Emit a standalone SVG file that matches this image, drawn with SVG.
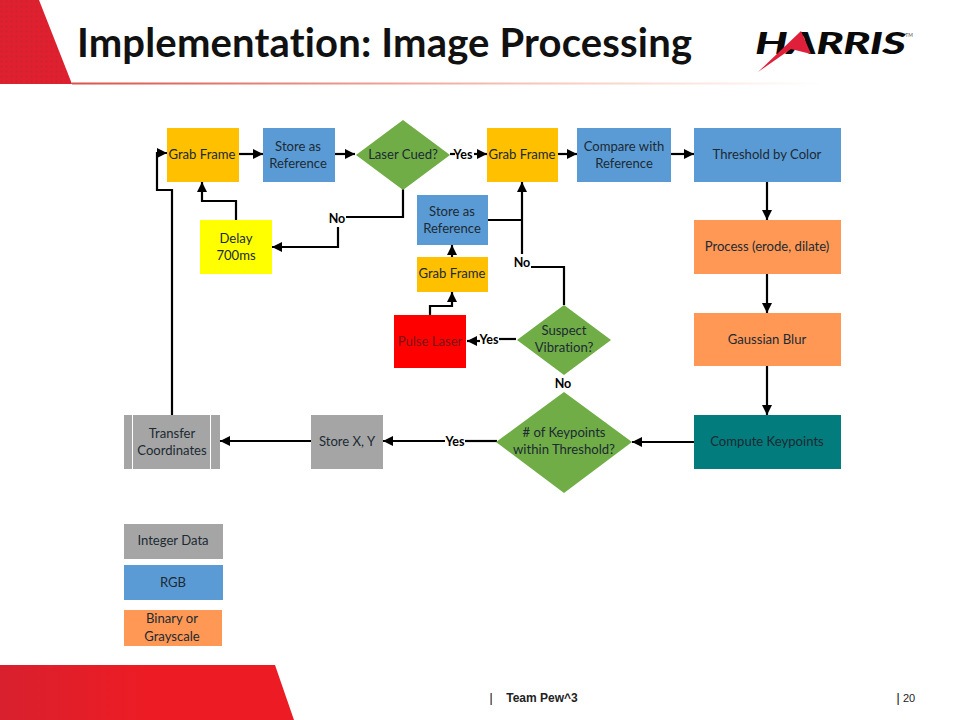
<svg xmlns="http://www.w3.org/2000/svg" width="960" height="720" viewBox="0 0 960 720">
<style>
text{font-family:Lato,"Liberation Sans",sans-serif;font-size:13.1px;text-anchor:middle;fill:#1c2a33;font-variant-ligatures:none}
.b{fill:#5b9bd5}.y{fill:#ffc000}.g{fill:#70ad47}.o{fill:#ff9855}.a{fill:#a5a5a5}
.l{font-weight:700;fill:#000;font-size:12.5px}
.c{fill:none;stroke:#000;stroke-width:2.2}
.f{font-family:"Liberation Sans",Arial,sans-serif;fill:#222}
</style>
<defs>
<marker id="ah" markerUnits="userSpaceOnUse" markerWidth="12" markerHeight="12" refX="10" refY="5" orient="auto"><path d="M0 0L10 5L0 10z" fill="#000"/></marker>
<linearGradient id="rule" x1="0" x2="1" y1="0" y2="0"><stop offset="0" stop-color="#d9534a"/><stop offset=".6" stop-color="#f6c4b8"/><stop offset="1" stop-color="#fff"/></linearGradient>
<linearGradient id="red" x1="0" x2="1" y1="0" y2="0"><stop offset="0" stop-color="#d8202e"/><stop offset=".5" stop-color="#ed1c24"/></linearGradient>
<pattern id="dots" width="5" height="5" patternUnits="userSpaceOnUse"><rect width="5" height="5" fill="#e0202e"/><circle cx="1.500" cy="1.500" r="1.200" fill="#cf2230"/></pattern>
</defs>
<g id="chrome">
<path d="M0 0H39L72 84H0z" fill="url(#dots)"/>
<rect x="72" y="82.500" width="750" height="2" fill="url(#rule)"/>
<path d="M0 665H275L294 720H0z" fill="url(#red)"/>
<text x="384.500" y="57" textLength="615" lengthAdjust="spacing" style="font-size:40px;font-weight:700;fill:#111">Implementation: Image Processing</text>
<text x="830" y="54" style="font-size:30px;font-weight:900;font-style:italic;fill:#0a0a0a;letter-spacing:-.5px" textLength="150" lengthAdjust="spacingAndGlyphs">HARRIS</text>
<path d="M758 72L801 31L811 54L791 49z" fill="#e0203a"/>
<text x="909" y="37" style="font-size:5px;fill:#555">TM</text>
<text class="f" x="491" y="702" style="font-size:12px;fill:#000">|</text>
<text class="f" x="542" y="702" style="font-size:12px;font-weight:700">Team Pew^3</text>
<text class="f" x="898" y="702" style="font-size:12px;fill:#000">|</text>
<text class="f" x="909" y="702" style="font-size:11px">20</text>
</g>
<g id="connectors">
<path class="c" marker-end="url(#ah)" d="M172 415V190H157V153H167"/>
<path class="c" marker-end="url(#ah)" d="M238 154H263"/>
<path class="c" marker-end="url(#ah)" d="M334 154H355"/>
<path class="c" d="M450 154H455"/><path class="c" marker-end="url(#ah)" d="M474 154H487"/>
<path class="c" marker-end="url(#ah)" d="M558 154H577"/>
<path class="c" marker-end="url(#ah)" d="M671 154H694"/>
<path class="c" marker-end="url(#ah)" d="M767 181V220"/>
<path class="c" marker-end="url(#ah)" d="M767 273V313"/>
<path class="c" marker-end="url(#ah)" d="M767 366V415"/>
<path class="c" marker-end="url(#ah)" d="M694 442H632"/>
<path class="c" d="M497 441H465"/><path class="c" marker-end="url(#ah)" d="M445 441H383"/>
<path class="c" marker-end="url(#ah)" d="M311 441H220"/>
<path class="c" d="M403 189V217H346"/>
<path class="c" marker-end="url(#ah)" d="M338 227V247H272"/>
<path class="c" marker-end="url(#ah)" d="M236 220V201H202V182"/>
<path class="c" d="M488 220H522"/>
<path class="c" marker-end="url(#ah)" d="M522 254V182"/>
<path class="c" d="M531 267H564V305"/>
<path class="c" d="M516 339H499"/>
<path class="c" marker-end="url(#ah)" d="M480 341H467"/>
<path class="c" marker-end="url(#ah)" d="M430 315V306H452V292"/>
<path class="c" marker-end="url(#ah)" d="M452 257V245"/>
</g>
<g id="grab1"><rect class="y" x="167" y="128" width="72" height="54"/><text x="202" y="159">Grab Frame</text></g>
<g id="store1"><rect class="b" x="263" y="128" width="72" height="54"/><text x="298" y="151">Store as</text><text x="298" y="168">Reference</text></g>
<g id="cued"><path class="g" d="M403 120L450 155L403 190L356 155z"/><text x="403" y="159">Laser Cued?</text></g>
<g id="grab2"><rect class="y" x="487" y="128" width="71" height="54"/><text x="522" y="159">Grab Frame</text></g>
<g id="compare"><rect class="b" x="577" y="128" width="94" height="54"/><text x="624" y="151">Compare with</text><text x="624" y="168">Reference</text></g>
<g id="threshold"><rect class="b" x="694" y="128" width="147" height="54"/><text x="767" y="159">Threshold by Color</text></g>
<g id="process"><rect class="o" x="694" y="220" width="147" height="54"/><text x="767" y="251">Process (erode, dilate)</text></g>
<g id="blur"><rect class="o" x="694" y="313" width="147" height="53"/><text x="767" y="344">Gaussian Blur</text></g>
<g id="keypoints"><rect fill="#027c7c" x="694" y="415" width="147" height="54"/><text x="767" y="446">Compute Keypoints</text></g>
<g id="delay"><rect fill="#ffff00" x="200" y="220" width="72" height="54"/><text x="236" y="243">Delay</text><text x="236" y="260">700ms</text></g>
<g id="store2"><rect class="b" x="417" y="195" width="71" height="50"/><text x="452" y="216">Store as</text><text x="452" y="233">Reference</text></g>
<g id="grab3"><rect class="y" x="417" y="257" width="71" height="35"/><text x="452" y="278">Grab Frame</text></g>
<g id="pulse"><rect fill="#ff0000" x="394" y="315" width="72" height="53"/><text x="430" y="346" style="fill:#7a1414">Pulse Laser</text></g>
<g id="vibration"><path class="g" d="M564 305L611 340L564 375L517 340z"/><text x="564" y="335">Suspect</text><text x="564" y="352">Vibration?</text></g>
<g id="within"><path class="g" d="M564 392L632 442L564 493L496 442z"/><text x="564" y="437"># of Keypoints</text><text x="564" y="454">within Threshold?</text></g>
<g id="storexy"><rect class="a" x="311" y="415" width="72" height="54"/><text x="347" y="446">Store X, Y</text></g>
<g id="transfer"><rect class="a" x="124" y="415" width="96" height="54"/><path d="M132.500 415V469M210.500 415V469" stroke="#fff" stroke-width="1"/><text x="172" y="438">Transfer</text><text x="172" y="455">Coordinates</text></g>
<g id="legend-int"><rect class="a" x="124" y="524" width="99" height="35"/><text x="173" y="545">Integer Data</text></g>
<g id="legend-rgb"><rect class="b" x="124" y="565" width="99" height="35"/><text x="173" y="587">RGB</text></g>
<g id="legend-bin"><rect class="o" x="124" y="610" width="98" height="36"/><text x="172" y="623">Binary or</text><text x="172" y="641">Grayscale</text></g>
<g id="edge-labels">
<text class="l" x="463" y="159">Yes</text>
<text class="l" x="337" y="223">No</text>
<text class="l" x="522" y="267">No</text>
<text class="l" x="489" y="344">Yes</text>
<text class="l" x="563" y="388">No</text>
<text class="l" x="455" y="446">Yes</text>
</g>
</svg>
